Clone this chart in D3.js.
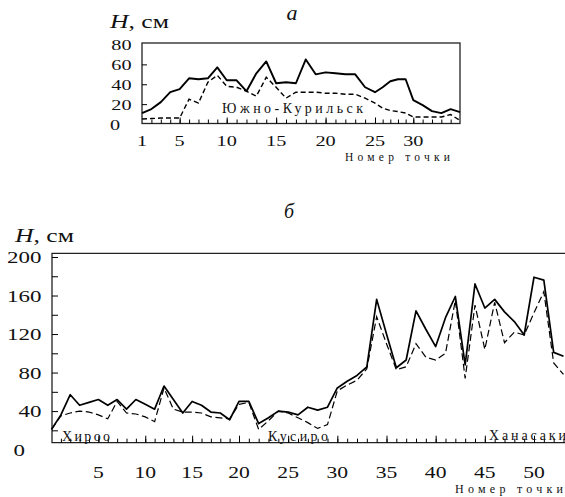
<!DOCTYPE html>
<html>
<head>
<meta charset="utf-8">
<title>Высота волны по точкам</title>
<script src="https://d3js.org/d3.v7.min.js"></script>
<style>
  body { margin: 0; background: #fff; }
  text { font-family: "Liberation Serif", "Times New Roman", serif; fill: #111; }
</style>
</head>
<body>
<svg id="chart" width="565" height="497"></svg>
<script>
// ---------- data, panel a (Южно-Курильск), points 1..35 ----------
var pointsA = d3.range(1, 36);
var solidA  = [11, 15, 22, 32, 35, 46, 45, 46, 57, 44, 44, 33, 51, 63, 41, 42, 41, 65,
               50, 52, 51, 50, 50, 37, 32, 37, 43, 45, 45, 24, 19, 13, 11, 15, 12];
var dashedA = [5, 5.5, 6, 6, 6, 25, 21, 42, 49, 38, 37, 33, 28, 47, 37, 26, 32, 32,
               32, 31, 31, 30, 30, 26, 21, 16, 13.5, 12.5, 11, 7, 7, 7, 7, 9.5, 3.5];
var xLabelsA = [1, 5, 10, 15, 20, 25, 30];
var yLabelsA = [0, 20, 40, 60, 80];

// ---------- data, panel b (Хироо - Кусиро - Ханасаки), points 0..53 ----------
var pointsB = d3.range(0, 54);
var solidB  = [21, 36, 57, 46, 49, 52, 46, 52, 42, 52, 47, 42, 66, 52, 38, 50, 46, 39,
               38, 31, 50, 50, 27, 33, 40, 39, 36, 44, 41, 44, 64, 71, 77, 86, 156, 120,
               85, 93, 144, 125, 107, 137, 159, 88, 172, 147, 156, 143, 133, 119, 179, 176,
               101, 97];
var dashedB = [21, 35, 38, 40, 39, 36, 32, 50, 38, 37, 34, 29, 64, 42, 39, 39, 38, 34,
               33, 32, 47, 49, 21, 30, 40, 38, 33, 28, 22, 26, 61, 67, 72, 84, 138, 110,
               83, 86, 110, 96, 93, 100, 155, 74, 150, 104, 153, 111, 122, 119, 142, 164,
               90, 78];
var xLabelsB = [5, 10, 15, 20, 25, 30, 35, 40, 45, 50];
var yLabelsB = [0, 40, 80, 120, 160, 200];

var svg = d3.select("#chart");
var K = 1.35;   // the scanned figure is stretched sideways, so the type is too

function put(x, y, size, anchor) {
  return svg.append("text")
    .attr("transform", "translate(" + x + "," + y + ") scale(" + K + ",1)")
    .attr("text-anchor", anchor || "start")
    .style("font-size", size + "px");
}
function spaced(x, y, size, len, str) {
  return svg.append("text")
    .attr("x", x).attr("y", y)
    .attr("textLength", len).attr("lengthAdjust", "spacing")
    .style("font-size", size + "px")
    .text(str);
}
function axisLabel(x, y) {
  var tx = put(x, y, 19, "start");
  tx.append("tspan").style("font-style", "italic").text("H");
  tx.append("tspan").text(", см");
}
function noDomain(g) { g.select(".domain").remove(); g.selectAll("text").remove(); }

//---------------------------- PANEL A ----------------------------
var A = { left: 142, right: 460, top: 43, bottom: 123.5 };
var xA = d3.scaleLinear().domain([1, 10, 25, 30, 35]).range([142, 226.7, 375, 413.3, 460]);
var yA = d3.scaleLinear().domain([0, 80]).range([124, 44.5]);

svg.append("rect")
  .attr("x", A.left).attr("y", A.top)
  .attr("width", A.right - A.left).attr("height", A.bottom - A.top)
  .attr("fill", "none").attr("stroke", "#222").attr("stroke-width", 1.3);

svg.append("g").attr("transform", "translate(0," + A.bottom + ")")
  .call(d3.axisBottom(xA).tickValues(d3.range(2, 35)).tickSize(-4).tickFormat(""))
  .call(noDomain);
svg.append("g").attr("transform", "translate(0," + A.bottom + ")")
  .call(d3.axisBottom(xA).tickValues([5, 10, 15, 20, 25, 30]).tickSize(-6).tickFormat(""))
  .call(noDomain);
svg.append("g").attr("transform", "translate(" + A.left + ",0)")
  .call(d3.axisRight(yA).tickValues([20, 40, 60]).tickSize(5).tickFormat(""))
  .call(noDomain);

var lineA = d3.line().x(function(d) { return xA(d[0]); }).y(function(d) { return yA(d[1]); });
svg.append("path").datum(d3.zip(pointsA, dashedA)).attr("d", lineA)
  .attr("fill", "none").attr("stroke", "#000").attr("stroke-width", 1.4)
  .attr("stroke-dasharray", "5,3");
svg.append("path").datum(d3.zip(pointsA, solidA)).attr("d", lineA)
  .attr("fill", "none").attr("stroke", "#000").attr("stroke-width", 1.9)
  .attr("stroke-linejoin", "round");

yLabelsA.forEach(function(v) {
  put(v === 0 ? 120 : 131.5, yA(v) + 5.5, 15, "end").text(v);
});
xLabelsA.forEach(function(v) {
  put(xA(v), 145.5, 15, "middle").text(v);
});

svg.append("text").attr("x", 292).attr("y", 20)
  .style("font-size", "22px").style("font-style", "italic").attr("text-anchor", "middle")
  .text("а");
axisLabel(110, 28);
spaced(222, 113, 14, 141, "Южно-Курильск");
spaced(345, 160.5, 11.5, 105, "Номер точки");

//---------------------------- PANEL B ----------------------------
var B = { left: 52, right: 620, top: 253.3, bottom: 442.7 };
var xB = d3.scaleLinear().domain([0, 20, 50]).range([51.5, 239, 534]);
var yB = d3.scaleLinear().domain([0, 200]).range([449.6, 257]);

svg.append("path")
  .attr("d", "M" + B.right + "," + B.top + "H" + B.left + "V" + B.bottom + "H" + B.right)
  .attr("fill", "none").attr("stroke", "#222").attr("stroke-width", 1.3);

svg.append("g").attr("transform", "translate(0," + B.bottom + ")")
  .call(d3.axisBottom(xB).tickValues(d3.range(1, 56)).tickSize(-4).tickFormat(""))
  .call(noDomain);
svg.append("g").attr("transform", "translate(0," + B.bottom + ")")
  .call(d3.axisBottom(xB).tickValues(xLabelsB).tickSize(-7).tickFormat(""))
  .call(noDomain);
svg.append("g").attr("transform", "translate(" + B.left + ",0)")
  .call(d3.axisRight(yB).tickValues(d3.range(20, 201, 20)).tickSize(6).tickFormat(""))
  .call(noDomain);

var lineB = d3.line().x(function(d) { return xB(d[0]); }).y(function(d) { return yB(d[1]); });
svg.append("path").datum(d3.zip(pointsB, dashedB)).attr("d", lineB)
  .attr("fill", "none").attr("stroke", "#000").attr("stroke-width", 1.2)
  .attr("stroke-dasharray", "7,3.5");
svg.append("path").datum(d3.zip(pointsB, solidB)).attr("d", lineB)
  .attr("fill", "none").attr("stroke", "#000").attr("stroke-width", 1.7)
  .attr("stroke-linejoin", "round");

yLabelsB.forEach(function(v) {
  put(v === 0 ? 25 : 41.5, yB(v) + 6, 17, "end").text(v);
});
xLabelsB.forEach(function(v) {
  put(xB(v), 478, 16, "middle").text(v);
});

svg.append("text").attr("x", 289).attr("y", 218)
  .style("font-size", "20px").style("font-style", "italic").attr("text-anchor", "middle")
  .text("б");
axisLabel(15, 242);
spaced(62, 441, 14, 48, "Хироо");
spaced(268, 441, 14, 60, "Кусиро");
spaced(489, 440, 14, 77, "Ханасаки");
spaced(455, 493, 12, 108, "Номер точки");
</script>
</body>
</html>
